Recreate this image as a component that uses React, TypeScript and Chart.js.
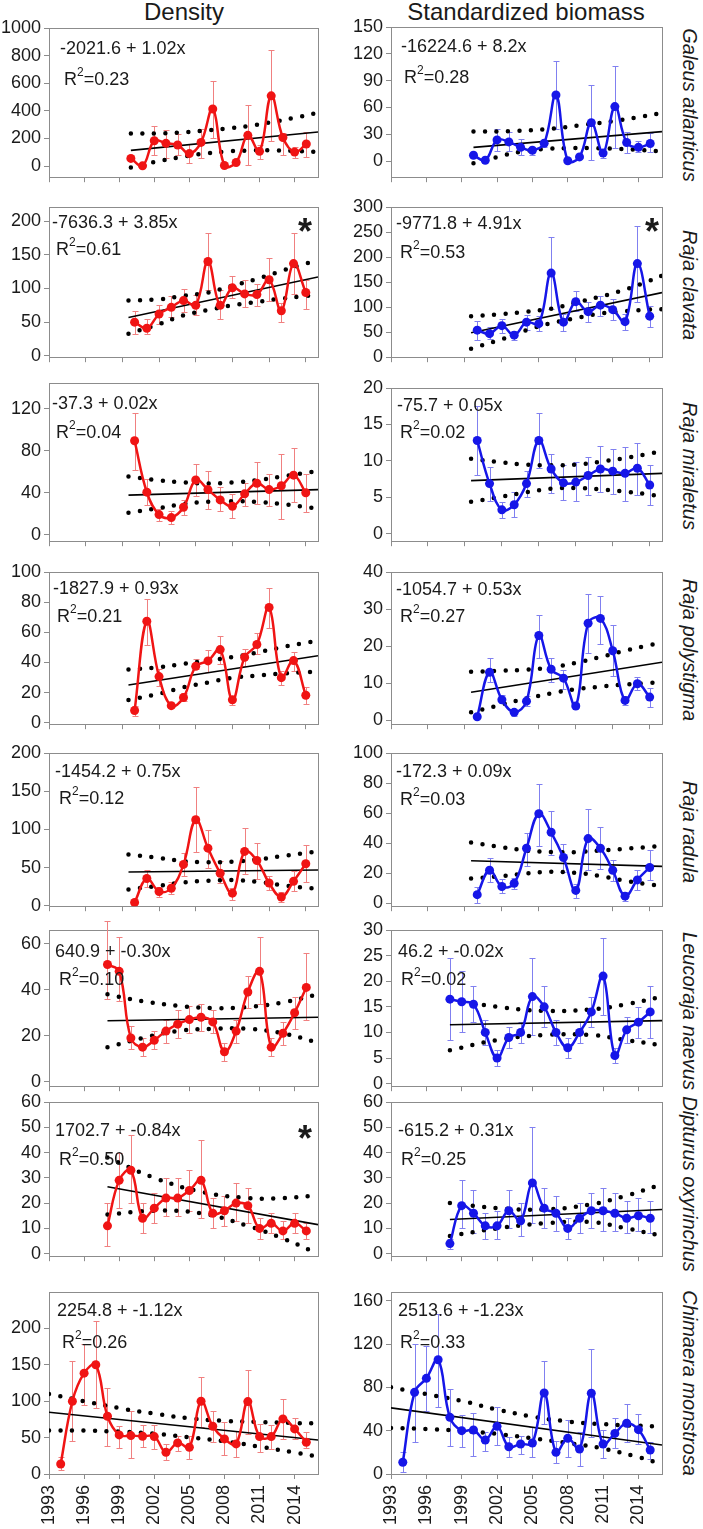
import React, { useEffect, useRef } from "react";
import { Chart, registerables } from "chart.js";
Chart.register(...registerables);

type Pt = [number, number];
type N = number | null;

const FONT = '"Liberation Sans", Arial, sans-serif';
const RED = "#f01414";
const RED_ERR = "#f08080";
const BLUE = "#1616e8";
const BLUE_ERR = "#8080f0";
const FRAME = "#8c8c8c";
const TEXT = "#1a1a1a";

// ---------- categories / ticks ----------
const X_TICKS = [1993, 1996, 1999, 2002, 2005, 2008, 2011, 2014];
const Y_00_15 = [2000, 2001, 2002, 2003, 2004, 2005, 2006, 2007, 2008, 2009, 2010, 2011, 2012, 2013, 2014, 2015];
const Y_00_14 = [2000, 2001, 2002, 2003, 2004, 2005, 2006, 2007, 2008, 2009, 2010, 2011, 2012, 2013, 2014];
const Y_98_15 = [1998, 1999, 2000, 2001, 2002, 2003, 2004, 2005, 2006, 2007, 2008, 2009, 2010, 2011, 2012, 2013, 2014, 2015];
const Y_94_15 = [1994, 1995, 1996, 1997, 1998, 1999, 2000, 2001, 2002, 2003, 2004, 2005, 2006, 2007, 2008, 2009, 2010, 2011, 2012, 2013, 2014, 2015];

const TICKS_1000 = [0, 200, 400, 600, 800, 1000];
const TICKS_150 = [0, 30, 60, 90, 120, 150];
const TICKS_200_50 = [0, 50, 100, 150, 200];
const TICKS_300 = [0, 50, 100, 150, 200, 250, 300];
const TICKS_140 = [0, 20, 40, 60, 80, 100, 120, 140];
const TICKS_20 = [0, 5, 10, 15, 20];
const TICKS_100 = [0, 20, 40, 60, 80, 100];
const TICKS_40 = [0, 10, 20, 30, 40];
const TICKS_60_20 = [0, 20, 40, 60];
const TICKS_30 = [0, 5, 10, 15, 20, 25, 30];
const TICKS_60_10 = [0, 10, 20, 30, 40, 50, 60];
const TICKS_160 = [0, 20, 40, 60, 80, 100, 120, 140, 160];

// ---------- Galeus atlanticus ----------
const galeusDens = [56, 2, 184, 165, 153, 91, 172, 414, 5, 26, 223, 107, 509, 207, 102, 160];
const galeusDensHi: N[] = [null, null, 288, 260, 235, 160, 270, 614, null, null, 440, 156, 842, 242, 137, 247];
const galeusDensLo: N[] = [null, null, 84, 56, 79, 21, 60, 207, null, null, 5, 51, 184, 79, 56, 67];
const galeusDensReg: Pt[] = [[2000, 114], [2016, 247]];
const galeusDensUp: Pt[] = [[2000, 237], [2002, 237], [2004, 242], [2006, 255], [2008, 270], [2010, 290], [2012, 318], [2014, 350], [2016, 386]];
const galeusDensLow: Pt[] = [[2000, -9], [2002, 30], [2004, 62], [2006, 88], [2008, 105], [2010, 113], [2012, 114], [2014, 110], [2016, 102]];

const galeusBio = [6.5, 1, 23.7, 21.5, 15.4, 12.2, 20, 74, 0.4, 4.7, 43, 9, 61, 20.8, 15.4, 19.7];
const galeusBioHi: N[] = [null, null, 35.9, 32, 25, 16, 24, 112, null, null, 85, 13.6, 106, 33, 22.6, 31.6];
const galeusBioLo: N[] = [null, null, 11.8, 10.8, 6.5, 6.5, 15.4, 36, null, null, 1, 3.6, 15, 9, 10, 10];
const galeusBioReg: Pt[] = [[2000, 15.4], [2016, 33]];
const galeusBioUp: Pt[] = [[2000, 33], [2003, 33.5], [2006, 35.5], [2009, 40], [2012, 45], [2014, 49], [2016, 54]];
const galeusBioLow: Pt[] = [[2000, -2.5], [2002, 4.5], [2004, 10.5], [2006, 13.5], [2008, 14.5], [2010, 14.5], [2012, 14], [2014, 12.5], [2016, 10.8]];

// ---------- Raja clavata ----------
const clavataDens = [50, 41, 62, 72, 82, 75, 140, 75, 101, 92, 91, 113, 67, 137, 94];
const clavataDensHi: N[] = [67, 54, 76, 89, 99, 91, 182, 98, 118, 112, 107, 145, 79, 182, 112];
const clavataDensLo: N[] = [33, 32, 48, 57, 65, 60, 98, 54, 86, 73, 74, 81, 50, 92, 70];
const clavataDensReg: Pt[] = [[1999.5, 57], [2015, 117]];
const clavataDensUp: Pt[] = [[1999.5, 82], [2002, 84], [2004, 89], [2006, 94], [2008, 104], [2010, 114], [2012, 126], [2014, 137], [2015, 142]];
const clavataDensLow: Pt[] = [[1999.5, 33], [2002, 47], [2004, 60], [2006, 68], [2008, 75], [2010, 80], [2012, 85], [2014, 89], [2015, 91]];

const clavataBio = [54, 47, 63, 44, 70, 67, 168, 70, 111, 91, 104, 95, 71, 187, 82];
const clavataBioHi: N[] = [73, 60, 76, 52, 84, 82, 241, 86, 133, 110, 122, 116, 86, 263, 102];
const clavataBioLo: N[] = [35, 36, 49, 35, 55, 52, 97, 52, 93, 71, 82, 75, 54, 110, 60];
const clavataBioReg: Pt[] = [[1999.5, 49], [2015, 129]];
const clavataBioUp: Pt[] = [[1999.5, 82], [2002, 86], [2004, 91], [2006, 97], [2008, 109], [2010, 121], [2012, 135], [2014, 153], [2015, 163]];
const clavataBioLow: Pt[] = [[1999.5, 17], [2002, 36], [2004, 54], [2006, 68], [2008, 78], [2010, 87], [2012, 92], [2014, 95], [2015, 96]];

// ---------- Raja miraletus ----------
const miraDens = [89.6, 40.7, 19.3, 16.5, 26.3, 52.3, 43.1, 33.3, 27.2, 39.1, 49.2, 43.1, 46.8, 56.9, 40.1];
const miraDensHi: N[] = [116.5, 52.9, 24.8, 22.6, 33.3, 67.6, 60.6, 45.3, 38.5, 49.8, 69.1, 57.8, 76.8, 82.9, 58.4];
const miraDensLo: N[] = [62, 28.4, 13.5, 10.4, 19.3, 37, 24.8, 22.3, 16.2, 27.8, 29.4, 27.8, 15.6, 31.5, 21.7];
const miraDensReg: Pt[] = [[1999.5, 37.9], [2015, 43.1]];
const miraDensUp: Pt[] = [[1999.5, 55.5], [2002, 52], [2004, 50], [2006, 49], [2008, 50], [2010, 52], [2012, 55.5], [2014, 59], [2015, 61]];
const miraDensLow: Pt[] = [[1999.5, 21], [2002, 25.5], [2004, 29.5], [2006, 31.5], [2008, 32], [2010, 31.5], [2012, 29.5], [2014, 26.5], [2015, 25]];

const miraBio = [12.8, 6.9, 3.3, 4.0, 6.9, 12.8, 8.9, 7.0, 7.1, 8.0, 8.9, 8.6, 8.3, 9.0, 6.7];
const miraBioHi: N[] = [17.6, 9.2, 4.4, 5.7, 8.6, 16.6, 11.0, 9.5, 9.8, 10.6, 12.1, 11.6, 11.9, 12.5, 9.5];
const miraBioLo: N[] = [8.1, 4.5, 2.2, 2.3, 5.1, 9.0, 5.6, 4.7, 4.5, 5.3, 5.7, 5.5, 4.5, 5.3, 4.0];
const miraBioReg: Pt[] = [[1999.5, 7.3], [2015, 8.3]];
const miraBioUp: Pt[] = [[1999.5, 10.3], [2002, 9.8], [2004, 9.5], [2006, 9.4], [2008, 9.5], [2010, 9.9], [2012, 10.4], [2014, 11.0], [2015, 11.4]];
const miraBioLow: Pt[] = [[1999.5, 4.4], [2002, 5.1], [2004, 5.7], [2006, 6.2], [2008, 6.3], [2010, 6.1], [2012, 5.8], [2014, 5.4], [2015, 5.1]];

// ---------- Raja polystigma ----------
const polyDens = [8.1, 67.3, 30.6, 11.3, 16.7, 37.4, 41.0, 48.5, 15.2, 43.4, 51.9, 76.5, 29.9, 41.2, 18.2];
const polyDensHi: N[] = [11.3, 82.3, 35.9, 12.8, 19.7, 42.1, 48.5, 57.7, 17.5, 49.1, 59.2, 89.7, 34.2, 47.0, 23.5];
const polyDensLo: N[] = [4.7, 51.3, 24.6, 9.6, 14.5, 35.3, 33.5, 38.9, 11.8, 37.8, 45.5, 63.0, 25.0, 34.2, 12.2];
const polyDensReg: Pt[] = [[1999.5, 25.0], [2015, 44.4]];
const polyDensUp: Pt[] = [[1999.5, 35.3], [2002, 36.8], [2004, 39], [2006, 41.2], [2008, 43.5], [2010, 46.5], [2012, 50], [2014, 53], [2015, 54.5]];
const polyDensLow: Pt[] = [[1999.5, 15], [2002, 19.2], [2004, 23.5], [2006, 26.7], [2008, 29.8], [2010, 31.3], [2012, 32.6], [2014, 33.5], [2015, 34]];

const polyBio = [1.0, 13.0, 5.6, 2.2, 5.2, 22.9, 13.8, 11.4, 3.9, 26.2, 27.5, 18.8, 5.4, 9.9, 6.3];
const polyBioHi: N[] = [null, 16.9, 6.9, 2.8, 6.5, 28.5, 16.9, 13.7, 4.8, 34.1, 33.5, 25.8, 6.5, 11.7, 8.8];
const polyBioLo: N[] = [null, 10.4, 4.8, 1.3, 3.9, 16.9, 10.4, 8.6, 3.3, 18.2, 20.7, 11.9, 4.1, 8.2, 3.6];
const polyBioReg: Pt[] = [[1999.5, 7.6], [2015, 15.7]];
const polyBioUp: Pt[] = [[1999.5, 13.1], [2002, 13.4], [2004, 13.7], [2006, 14.3], [2008, 15.5], [2010, 17.1], [2012, 18.8], [2014, 20.3], [2015, 21]];
const polyBioLow: Pt[] = [[1999.5, 2.2], [2002, 4.3], [2004, 5.9], [2006, 7.3], [2008, 8.4], [2010, 9.1], [2012, 9.7], [2014, 10.1], [2015, 10.3]];

// ---------- Raja radula ----------
const radDens = [4.3, 35.8, 18.8, 23.0, 54.2, 112.6, 75.5, 42.6, 16.6, 71.2, 59.3, 29.9, 11.5, 32.0, 55.0];
const radDensHi: N[] = [null, 46.5, 25.2, 30.7, 69.1, 155.2, 99.8, 58.4, 23.0, 101.9, 82.7, 39.2, 17.9, 45.6, 79.7];
const radDensLo: N[] = [null, 24.3, 11.5, 15.8, 39.2, 69.9, 49.9, 29.9, 8.1, 41.4, 35.0, 21.3, 5.1, 18.8, 30.7];
const radDensReg: Pt[] = [[1999.5, 44.3], [2015, 46.9]];
const radDensUp: Pt[] = [[1999.5, 67], [2002, 62.7], [2004, 58.4], [2006, 57.1], [2008, 57.6], [2010, 60.6], [2012, 64.8], [2014, 69], [2015, 71]];
const radDensLow: Pt[] = [[1999.5, 21.3], [2002, 26.4], [2004, 30.7], [2006, 32.8], [2008, 33.7], [2010, 31.6], [2012, 27.3], [2014, 23.5], [2015, 22.5]];

const radBio = [5.7, 21.9, 11.1, 13.2, 36.6, 59.6, 47.2, 30.4, 8.5, 43.0, 36.6, 21.9, 4.7, 15.5, 23.8];
const radBioHi: N[] = [10.6, 29.8, 16.0, 17.0, 46.8, 79.1, 61.3, 39.4, 12.8, 62.8, 50.4, 28.7, 7.4, 22.3, 35.1];
const radBioLo: N[] = [0.4, 13.8, 6.8, 9.6, 24.5, 38.3, 31.9, 20.6, 3.2, 22.3, 23.0, 14.9, 1.7, 8.5, 15.3];
const radBioReg: Pt[] = [[1999.5, 28.3], [2015, 24.5]];
const radBioUp: Pt[] = [[1999.5, 40.4], [2002, 37.2], [2004, 35.1], [2006, 34], [2008, 34], [2010, 35.1], [2012, 36.2], [2014, 37.5], [2015, 38]];
const radBioLow: Pt[] = [[1999.5, 16.4], [2002, 18.1], [2004, 19.8], [2006, 20.9], [2008, 20.2], [2010, 18.1], [2012, 14.9], [2014, 12.5], [2015, 11.5]];

// ---------- Leucoraja naevus ----------
const naevDens = [51, 48, 19, 15, 18, 22, 25, 27, 28, 26, 13, 22, 39, 48, 15, 21, 30, 41];
const naevDensHi: N[] = [70, 63, 24, 19, 22, 27, 31, 33, 34, 31, 17, 27, 46, 63, 19, 26, 37, 56];
const naevDensLo: N[] = [36, 35, 14, 11, 14, 17, 19, 21, 22, 21, 9, 17, 32, 34, 11, 16, 23, 27];
const naevDensReg: Pt[] = [[1998, 26.5], [2016, 28]];
const naevDensUp: Pt[] = [[1998, 38], [2001, 35], [2004, 33], [2007, 32], [2010, 32.5], [2013, 34.5], [2016, 38]];
const naevDensLow: Pt[] = [[1998, 15], [2001, 19], [2004, 22], [2007, 23], [2010, 23], [2013, 21], [2016, 17]];

const naevBio = [16.5, 16, 15.5, 10, 5, 9, 10, 17, 15, 10, 7, 10, 14, 21, 5.5, 10.5, 12, 14];
const naevBioHi: N[] = [24.5, 22, 19, 12.5, 6.5, 11, 12, 24.5, 19, 12.5, 9, 12, 17, 28.5, 7, 13, 15, 19];
const naevBioLo: N[] = [8.5, 10, 12, 7.5, 3.5, 7, 8, 9.5, 11, 7.5, 5, 8, 11, 13.5, 4, 8, 9, 9];
const naevBioReg: Pt[] = [[1998, 11.5], [2016, 12.3]];
const naevBioUp: Pt[] = [[1998, 16.5], [2002, 15], [2006, 14.2], [2010, 14.5], [2013, 15.5], [2016, 17]];
const naevBioLow: Pt[] = [[1998, 6.5], [2002, 8.5], [2006, 9.5], [2010, 9.5], [2013, 8.5], [2016, 7.5]];

// ---------- Dipturus oxyrinchus ----------
const dipDens = [11, 29, 33, 14, 18, 22, 22, 25, 29, 16, 17, 20, 19, 10, 12, 9, 12, 9];
const dipDensHi: N[] = [20, 40, 47, 20, 24, 30, 30, 33, 45, 22, 23, 28, 26, 14, 16, 13, 16, 12];
const dipDensLo: N[] = [3, 18, 20, 8, 12, 15, 15, 17, 14, 10, 11, 13, 12, 6, 8, 6, 8, 6];
const dipDensReg: Pt[] = [[1998, 26.5], [2016, 11.5]];
const dipDensUp: Pt[] = [[1998, 38], [2002, 30], [2006, 24.5], [2010, 22], [2013, 22], [2016, 23]];
const dipDensLow: Pt[] = [[1998, 15.5], [2002, 17], [2006, 16], [2010, 11], [2013, 6], [2016, 0]];

const dipBio = [4, 19, 16, 11, 11, 17, 13, 28, 18, 16, 10, 14, 17, 17, 16, 14, 15, 14];
const dipBioHi: N[] = [6, 29, 25, 16, 17, 25, 20, 50, 26, 23, 14, 20, 24, 26, 24, 21, 22, 21];
const dipBioLo: N[] = [2, 10, 8, 6, 6, 10, 7, 12, 10, 9, 6, 8, 10, 9, 9, 8, 9, 8];
const dipBioReg: Pt[] = [[1998, 13.5], [2016, 17.5]];
const dipBioUp: Pt[] = [[1998, 20], [2002, 18], [2006, 17.5], [2010, 19.5], [2013, 23], [2016, 27.5]];
const dipBioLow: Pt[] = [[1998, 7], [2002, 10], [2006, 12], [2010, 12.5], [2013, 10], [2016, 7]];

// ---------- Chimaera monstrosa ----------
const chimDens = [13.8, 100, 138.5, 150, 79.4, 53.7, 52.8, 51.8, 51.4, 29.8, 42.7, 36.7, 100, 65.6, 48.2, 41.3, 99.5, 51.4, 51.4, 75.7, 61.9, 43.6];
const chimDensHi: N[] = [23.9, 155, 179, 210, 118, 66.5, 86.2, 67.4, 67.4, 41.3, 52.8, 52.8, 133, 87.2, 71.1, 59.6, 142.2, 68.8, 67.4, 103.2, 77.1, 57.3];
const chimDensLo: N[] = [5.5, 45.9, 95.4, 90.4, 39, 35.8, 21.6, 36.7, 34.4, 19.3, 32.1, 20.6, 65.1, 43.6, 26.6, 23.9, 55, 29.8, 34.4, 48.2, 48.2, 35.8];
const chimDensReg: Pt[] = [[1993, 84.9], [2016, 46.8]];
const chimDensUp: Pt[] = [[1993, 110], [1996, 100], [1999, 90.5], [2002, 83], [2005, 76.5], [2008, 73], [2011, 71.5], [2014, 70], [2016, 69.5]];
const chimDensLow: Pt[] = [[1993, 59.6], [1996, 59.6], [1999, 58.2], [2002, 55.5], [2005, 50.5], [2008, 45], [2011, 37.5], [2014, 29.5], [2016, 23.9]];

const chimBio = [10.8, 75.4, 88.3, 105.5, 52.3, 40, 40.6, 31.4, 44, 25.2, 27.7, 28.6, 74.8, 20, 32.9, 23.1, 74.5, 27.7, 37.5, 46.8, 40.9, 22.2];
const chimBioHi: N[] = [20, 120, 118.5, 148, 78.5, 54.5, 56, 38.5, 61.5, 34.5, 35.4, 43.1, 104, 30.8, 49.8, 38.5, 115.4, 40.6, 51.7, 64.6, 55.4, 29.2];
const chimBioLo: N[] = [1.5, 29.8, 58.5, 62.2, 26.2, 24.6, 16.9, 20.9, 27.1, 16, 18.5, 15.4, 46.2, 9.8, 16, 7.7, 33.8, 14.8, 24, 29.2, 27.7, 13.8];
const chimBioReg: Pt[] = [[1993, 61], [2016, 26.8]];
const chimBioUp: Pt[] = [[1993, 80], [1996, 73.8], [1999, 67.5], [2002, 59.5], [2005, 53], [2008, 48.5], [2011, 46], [2014, 44.5], [2016, 44]];
const chimBioLow: Pt[] = [[1993, 42.5], [1996, 41.5], [1999, 40], [2002, 37], [2005, 33], [2008, 28.5], [2011, 23.5], [2014, 15.5], [2016, 9.2]];

const SPECIES = ["Galeus atlanticus", "Raja clavata", "Raja miraletus", "Raja polystigma", "Raja radula", "Leucoraja naevus", "Dipturus oxyrinchus", "Chimaera monstrosa"];

interface PanelCfg {
  col: 0 | 1;
  top: number;
  bottom: number;
  xMax: number;
  yMin: number;
  yMax: number;
  yTicks: number[];
  years: number[];
  values: number[];
  hi: N[];
  lo: N[];
  reg: Pt[];
  up: Pt[];
  low: Pt[];
  eq: string;
  r2: string;
  eqPos: Pt;
  r2Pos: Pt;
  star?: Pt;
  xLabels?: boolean;
}

const PANELS: PanelCfg[] = [
  { col: 0, top: 28, bottom: 183, xMax: 2016, yMin: -80, yMax: 1000, yTicks: TICKS_1000, years: Y_00_15, values: galeusDens, hi: galeusDensHi, lo: galeusDensLo, reg: galeusDensReg, up: galeusDensUp, low: galeusDensLow, eq: "-2021.6 + 1.02x", r2: "0.23", eqPos: [60, 49], r2Pos: [64, 80] },
  { col: 1, top: 27, bottom: 183, xMax: 2016, yMin: -18, yMax: 150, yTicks: TICKS_150, years: Y_00_15, values: galeusBio, hi: galeusBioHi, lo: galeusBioLo, reg: galeusBioReg, up: galeusBioUp, low: galeusBioLow, eq: "-16224.6 + 8.2x", r2: "0.28", eqPos: [401, 47], r2Pos: [404, 78] },
  { col: 0, top: 207, bottom: 363, xMax: 2015, yMin: -2, yMax: 221, yTicks: TICKS_200_50, years: Y_00_14, values: clavataDens, hi: clavataDensHi, lo: clavataDensLo, reg: clavataDensReg, up: clavataDensUp, low: clavataDensLow, eq: "-7636.3 + 3.85x", r2: "0.61", eqPos: [52, 223], r2Pos: [56, 250], star: [305, 223] },
  { col: 1, top: 207, bottom: 363, xMax: 2015, yMin: 0, yMax: 300, yTicks: TICKS_300, years: Y_00_14, values: clavataBio, hi: clavataBioHi, lo: clavataBioLo, reg: clavataBioReg, up: clavataBioUp, low: clavataBioLow, eq: "-9771.8 + 4.91x", r2: "0.53", eqPos: [396, 224], r2Pos: [400, 253], star: [652, 223] },
  { col: 0, top: 383, bottom: 547, xMax: 2015, yMin: -6, yMax: 144.6, yTicks: TICKS_140, years: Y_00_14, values: miraDens, hi: miraDensHi, lo: miraDensLo, reg: miraDensReg, up: miraDensUp, low: miraDensLow, eq: "-37.3 + 0.02x", r2: "0.04", eqPos: [52, 404], r2Pos: [56, 433] },
  { col: 1, top: 388, bottom: 547, xMax: 2015, yMin: -1, yMax: 20, yTicks: TICKS_20, years: Y_00_14, values: miraBio, hi: miraBioHi, lo: miraBioLo, reg: miraBioReg, up: miraBioUp, low: miraBioLow, eq: "-75.7 + 0.05x", r2: "0.02", eqPos: [397, 406], r2Pos: [400, 433] },
  { col: 0, top: 572, bottom: 730, xMax: 2015, yMin: -1, yMax: 100, yTicks: TICKS_100, years: Y_00_14, values: polyDens, hi: polyDensHi, lo: polyDensLo, reg: polyDensReg, up: polyDensUp, low: polyDensLow, eq: "-1827.9 + 0.93x", r2: "0.21", eqPos: [53, 589], r2Pos: [57, 617] },
  { col: 1, top: 572, bottom: 730, xMax: 2015, yMin: -1, yMax: 40, yTicks: TICKS_40, years: Y_00_14, values: polyBio, hi: polyBioHi, lo: polyBioLo, reg: polyBioReg, up: polyBioUp, low: polyBioLow, eq: "-1054.7 + 0.53x", r2: "0.27", eqPos: [396, 590], r2Pos: [400, 617] },
  { col: 0, top: 753, bottom: 912, xMax: 2015, yMin: -0.5, yMax: 200, yTicks: TICKS_200_50, years: Y_00_14, values: radDens, hi: radDensHi, lo: radDensLo, reg: radDensReg, up: radDensUp, low: radDensLow, eq: "-1454.2 + 0.75x", r2: "0.12", eqPos: [55, 772], r2Pos: [59, 799] },
  { col: 1, top: 753, bottom: 912, xMax: 2015, yMin: -2, yMax: 100, yTicks: TICKS_100, years: Y_00_14, values: radBio, hi: radBioHi, lo: radBioLo, reg: radBioReg, up: radBioUp, low: radBioLow, eq: "-172.3 + 0.09x", r2: "0.03", eqPos: [396, 772], r2Pos: [400, 800] },
  { col: 0, top: 930, bottom: 1092, xMax: 2016, yMin: -2, yMax: 66, yTicks: TICKS_60_20, years: Y_98_15, values: naevDens, hi: naevDensHi, lo: naevDensLo, reg: naevDensReg, up: naevDensUp, low: naevDensLow, eq: "640.9 + -0.30x", r2: "0.10", eqPos: [55, 952], r2Pos: [59, 980] },
  { col: 1, top: 930, bottom: 1092, xMax: 2016, yMin: -0.5, yMax: 30, yTicks: TICKS_30, years: Y_98_15, values: naevBio, hi: naevBioHi, lo: naevBioLo, reg: naevBioReg, up: naevBioUp, low: naevBioLow, eq: "46.2 + -0.02x", r2: "0.02", eqPos: [398, 952], r2Pos: [401, 980] },
  { col: 0, top: 1102, bottom: 1262, xMax: 2016, yMin: -1, yMax: 60, yTicks: TICKS_60_10, years: Y_98_15, values: dipDens, hi: dipDensHi, lo: dipDensLo, reg: dipDensReg, up: dipDensUp, low: dipDensLow, eq: "1702.7 + -0.84x", r2: "0.50", eqPos: [55, 1131], r2Pos: [59, 1160], star: [305, 1130] },
  { col: 1, top: 1102, bottom: 1262, xMax: 2016, yMin: -1, yMax: 60, yTicks: TICKS_60_10, years: Y_98_15, values: dipBio, hi: dipBioHi, lo: dipBioLo, reg: dipBioReg, up: dipBioUp, low: dipBioLow, eq: "-615.2 + 0.31x", r2: "0.25", eqPos: [398, 1131], r2Pos: [401, 1160] },
  { col: 0, top: 1292, bottom: 1474, xMax: 2016, yMin: 0, yMax: 250, yTicks: TICKS_200_50, years: Y_94_15, values: chimDens, hi: chimDensHi, lo: chimDensLo, reg: chimDensReg, up: chimDensUp, low: chimDensLow, eq: "2254.8 + -1.12x", r2: "0.26", eqPos: [57, 1311], r2Pos: [62, 1343], xLabels: true },
  { col: 1, top: 1292, bottom: 1474, xMax: 2016, yMin: 0, yMax: 168, yTicks: TICKS_160, years: Y_94_15, values: chimBio, hi: chimBioHi, lo: chimBioLo, reg: chimBioReg, up: chimBioUp, low: chimBioLow, eq: "2513.6 + -1.23x", r2: "0.33", eqPos: [398, 1311], r2Pos: [400, 1343], xLabels: true },
];

const SPECIES_CY = [105, 285, 466, 650, 832, 1011, 1184, 1383];

function Panel({ cfg }: { cfg: PanelCfg }) {
  const ref = useRef<HTMLCanvasElement | null>(null);
  const canvasLeft = cfg.col === 0 ? 0 : 340;
  const canvasW = cfg.col === 0 ? 330 : 332;
  const plotL = cfg.col === 0 ? 49 : 391;
  const plotR = cfg.col === 0 ? 318 : 662;
  const canvasTop = cfg.top - 14;
  const canvasBottom = cfg.xLabels ? 1529 : cfg.bottom + 8;
  const canvasH = canvasBottom - canvasTop;

  useEffect(() => {
    const color = cfg.col === 0 ? RED : BLUE;
    const errColor = cfg.col === 0 ? RED_ERR : BLUE_ERR;
    const toXY = (pts: Pt[]) => pts.map(([x, y]) => ({ x, y }));

    const framePlugin = {
      id: "frame",
      beforeDatasetsDraw(chart: any) {
        const { ctx, chartArea: a } = chart;
        ctx.save();
        ctx.strokeStyle = FRAME;
        ctx.lineWidth = 1;
        ctx.strokeRect(Math.round(a.left) + 0.5, Math.round(a.top) + 0.5, Math.round(a.right - a.left), Math.round(a.bottom - a.top));
        ctx.restore();
      },
    };

    const errPlugin = {
      id: "errbars",
      beforeDatasetsDraw(chart: any) {
        const { ctx } = chart;
        const xs = chart.scales.x;
        const ys = chart.scales.y;
        ctx.save();
        ctx.strokeStyle = errColor;
        ctx.lineWidth = 1;
        cfg.years.forEach((yr, i) => {
          const h = cfg.hi[i];
          const l = cfg.lo[i];
          if (h == null || l == null) return;
          const px = Math.round(xs.getPixelForValue(yr)) + 0.5;
          const ph = Math.round(ys.getPixelForValue(h)) + 0.5;
          const pl = Math.round(ys.getPixelForValue(l)) + 0.5;
          ctx.beginPath();
          ctx.moveTo(px, ph);
          ctx.lineTo(px, pl);
          ctx.moveTo(px - 3, ph);
          ctx.lineTo(px + 3, ph);
          ctx.moveTo(px - 3, pl);
          ctx.lineTo(px + 3, pl);
          ctx.stroke();
        });
        ctx.restore();
      },
    };

    const textPlugin = {
      id: "eqtext",
      afterDraw(chart: any) {
        const { ctx } = chart;
        ctx.save();
        ctx.fillStyle = TEXT;
        ctx.textAlign = "left";
        ctx.textBaseline = "middle";
        ctx.font = `18px ${FONT}`;
        ctx.fillText(cfg.eq, cfg.eqPos[0] - canvasLeft, cfg.eqPos[1] - canvasTop);
        let x = cfg.r2Pos[0] - canvasLeft;
        const y = cfg.r2Pos[1] - canvasTop;
        ctx.fillText("R", x, y);
        x += ctx.measureText("R").width;
        ctx.font = `12px ${FONT}`;
        ctx.fillText("2", x, y - 7);
        x += ctx.measureText("2").width;
        ctx.font = `18px ${FONT}`;
        ctx.fillText("=" + cfg.r2, x, y);
        if (cfg.star) {
          ctx.font = `bold 36px ${FONT}`;
          ctx.textAlign = "center";
          ctx.textBaseline = "alphabetic";
          ctx.fillText("*", cfg.star[0] - canvasLeft, cfg.star[1] - canvasTop + 21);
        }
        ctx.restore();
      },
    };

    const dotted = {
      borderColor: "#000",
      borderWidth: 4.5,
      borderDash: [0, 11.5],
      borderCapStyle: "round" as const,
      pointRadius: 0,
      tension: 0.4,
      fill: false,
    };

    const chart = new Chart(ref.current as HTMLCanvasElement, {
      type: "line",
      data: {
        datasets: [
          {
            data: cfg.years.map((yr, i) => ({ x: yr, y: cfg.values[i] })),
            borderColor: color,
            backgroundColor: color,
            borderWidth: 2.5,
            pointRadius: 4.5,
            pointBorderWidth: 0,
            pointBackgroundColor: color,
            tension: 0.4,
            fill: false,
          },
          {
            data: toXY(cfg.reg),
            borderColor: "#000",
            borderWidth: 1.6,
            pointRadius: 0,
            tension: 0,
            fill: false,
          },
          { data: toXY(cfg.up), ...dotted },
          { data: toXY(cfg.low), ...dotted },
        ] as any,
      },
      options: {
        animation: false,
        responsive: false,
        maintainAspectRatio: false,
        events: [],
        layout: { padding: { top: 14, right: canvasW - (plotR - canvasLeft), bottom: 0, left: 0 } },
        plugins: { legend: { display: false }, tooltip: { enabled: false }, title: { display: false } },
        scales: {
          x: {
            type: "linear",
            min: 1993,
            max: cfg.xMax,
            afterBuildTicks: (s: any) => {
              s.ticks = X_TICKS.map((v) => ({ value: v }));
            },
            afterFit: (s: any) => {
              s.height = canvasH - (cfg.bottom - canvasTop);
            },
            grid: { drawOnChartArea: false, drawTicks: true, tickLength: 5, color: FRAME, lineWidth: 1 },
            border: { display: false },
            ticks: {
              display: !!cfg.xLabels,
              autoSkip: false,
              minRotation: 90,
              maxRotation: 90,
              padding: 6,
              color: TEXT,
              font: { family: FONT, size: 18 },
              callback: (v: any) => String(v),
            },
          },
          y: {
            type: "linear",
            min: cfg.yMin,
            max: cfg.yMax,
            afterBuildTicks: (s: any) => {
              s.ticks = cfg.yTicks.map((v) => ({ value: v }));
            },
            afterFit: (s: any) => {
              s.width = plotL - canvasLeft;
            },
            grid: { drawOnChartArea: false, drawTicks: true, tickLength: 5, color: FRAME, lineWidth: 1 },
            border: { display: false },
            ticks: {
              padding: 3,
              color: TEXT,
              font: { family: FONT, size: 18 },
              callback: (v: any) => String(v),
            },
          },
        },
      } as any,
      plugins: [framePlugin, errPlugin, textPlugin],
    });
    return () => chart.destroy();
  }, []);

  return (
    <canvas
      ref={ref}
      width={canvasW}
      height={canvasH}
      style={{ position: "absolute", left: canvasLeft, top: canvasTop, width: canvasW, height: canvasH }}
    />
  );
}

export default function App() {
  return (
    <div style={{ position: "absolute", left: 0, top: 0, width: 703, height: 1529, background: "#fff", overflow: "hidden", fontFamily: FONT }}>
      <div style={{ position: "absolute", left: 184, top: 12, transform: "translate(-50%, -50%)", fontSize: 24, color: TEXT, whiteSpace: "nowrap", lineHeight: 1 }}>Density</div>
      <div style={{ position: "absolute", left: 526, top: 12, transform: "translate(-50%, -50%)", fontSize: 24, color: TEXT, whiteSpace: "nowrap", lineHeight: 1 }}>Standardized biomass</div>
      {SPECIES.map((s, i) => (
        <div
          key={s}
          style={{
            position: "absolute",
            left: 690,
            top: SPECIES_CY[i],
            transform: "translate(-50%, -50%) rotate(90deg)",
            fontSize: 20,
            fontStyle: "italic",
            color: TEXT,
            whiteSpace: "nowrap",
            lineHeight: 1,
          }}
        >
          {s}
        </div>
      ))}
      {PANELS.map((p, i) => (
        <Panel key={i} cfg={p} />
      ))}
    </div>
  );
}
